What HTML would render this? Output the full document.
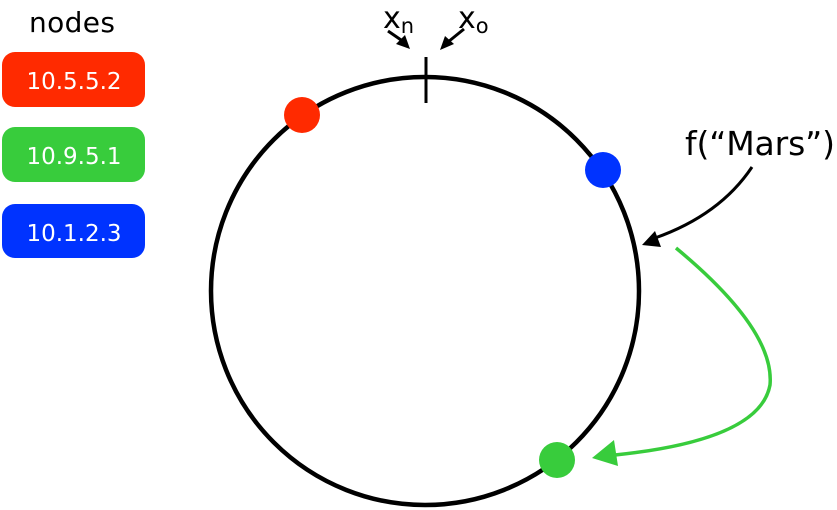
<!DOCTYPE html>
<html><head><meta charset="utf-8"><style>
html,body{margin:0;padding:0;background:#fff;}
svg{display:block;}
.hand{font-family:"DejaVu Sans","Liberation Sans",sans-serif;font-weight:normal;}
.lbl{font-family:"DejaVu Sans","Liberation Sans",sans-serif;fill:#fff;font-size:23px;}
</style></head><body>
<svg width="837" height="510" viewBox="0 0 837 510">
  <text x="72" y="32" text-anchor="middle" font-size="28" class="hand" textLength="86">nodes</text>
  <g>
    <rect x="2" y="52" width="143" height="55" rx="13" fill="#ff2a00"/>
    <text x="74" y="89" text-anchor="middle" class="lbl">10.5.5.2</text>
  </g>
  <g>
    <rect x="2" y="127" width="143" height="55" rx="13" fill="#38cc3c"/>
    <text x="74" y="164" text-anchor="middle" class="lbl">10.9.5.1</text>
  </g>
  <g>
    <rect x="2" y="204" width="143" height="54" rx="13" fill="#0033ff"/>
    <text x="74" y="241" text-anchor="middle" class="lbl">10.1.2.3</text>
  </g>
  <circle cx="425" cy="291" r="214" fill="none" stroke="#000" stroke-width="4.5"/>
  <line x1="426" y1="57" x2="426" y2="103" stroke="#000" stroke-width="3"/>
  <text x="383" y="28" font-size="30" class="hand">x<tspan font-size="21" dy="5">n</tspan></text>
  <text x="458" y="28" font-size="30" class="hand">x<tspan font-size="21" dy="5">o</tspan></text>
  <g>
    <line x1="388" y1="31" x2="404" y2="42" stroke="#000" stroke-width="3"/>
    <polygon points="410,49 396,44 405,35" fill="#000"/>
  </g>
  <g>
    <line x1="464" y1="29" x2="448" y2="42" stroke="#000" stroke-width="3"/>
    <polygon points="440,50 445,36 454,44" fill="#000"/>
  </g>
  <circle cx="302" cy="115" r="18" fill="#ff2a00"/>
  <circle cx="603" cy="170" r="18" fill="#0033ff"/>
  <circle cx="557" cy="460" r="18" fill="#38cc3c"/>
  <text x="685" y="155" font-size="33" class="hand" textLength="150">f(“Mars”)</text>
  <g>
    <path d="M752,167 Q720,215 655,238" fill="none" stroke="#000" stroke-width="3"/>
    <polygon points="642,245 655,231 661,247" fill="#000"/>
  </g>
  <g>
    <path d="M676,248 Q775,330 770,385 Q760,440 615,455" fill="none" stroke="#38cc3c" stroke-width="3.5"/>
    <polygon points="592,458 614,440 618,466" fill="#38cc3c"/>
  </g>
</svg>
</body></html>
